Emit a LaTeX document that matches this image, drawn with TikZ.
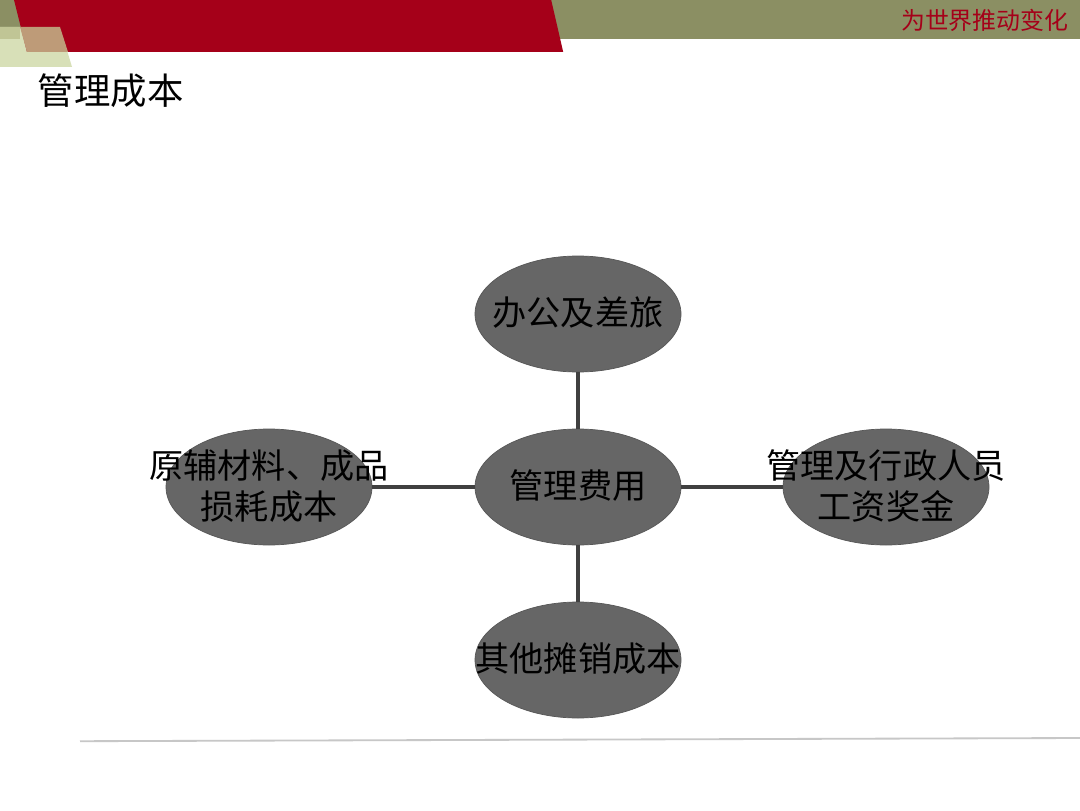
\documentclass[tikz,border=0pt]{standalone}
\usepackage{fontspec}
\setmainfont{Noto Sans CJK SC}
\usetikzlibrary{shapes.geometric}
\definecolor{bandolive}{HTML}{8B8F63}
\definecolor{bandred}{HTML}{A50019}
\definecolor{bandmid}{HTML}{C0C595}
\definecolor{bandlight}{HTML}{D8E0B8}
\definecolor{bandtan}{HTML}{BE9B78}
\definecolor{costgray}{HTML}{666666}
\definecolor{linkgray}{HTML}{404040}
\newcommand{\costname}[1]{\makebox[0pt]{\raisebox{-8.7pt}[0pt][0pt]{\begin{tabular}{@{}c@{}}#1\end{tabular}}}}
\tikzset{
  costnode/.style={ellipse,draw=costgray!85!black,fill=costgray,line width=0.5pt,inner sep=0pt,
    minimum width=5.15cm,minimum height=2.9cm,text=black,font=\fontsize{24.3}{29}\selectfont},
  costlink/.style={draw=linkgray,line width=2.6pt}
}
\begin{document}
\begin{tikzpicture}

\useasboundingbox (0,0) rectangle (27,20.25);
\fill[white] (0,0) rectangle (27,20.25);

% top band
\fill[bandolive] (0,19.275) rectangle (27,20.25);
\fill[bandlight] (0,18.575) -- (1.8,18.575) -- (1.5,19.575) -- (0,19.575) -- cycle;
\fill[bandmid] (0,19.275) rectangle (0.5,19.575);
\fill[bandred] (0.35,20.25) -- (13.78,20.25) -- (14.08,18.95) -- (0.675,18.95) -- cycle;
\fill[bandtan] (0.5,19.575) -- (1.5,19.575) -- (1.7,18.95) -- (0.675,18.95) -- cycle;

\node[text=bandred,font=\fontsize{17}{20}\selectfont] (slogan) at (24.62,19.75) {为世界推动变化};
\node[font=\fontsize{25.9}{30}\selectfont] (title) at (2.77,17.98) {管理成本};

\node[costnode] (hub) at (14.45,8.075) {\costname{管理费用}};
\node[costnode] (office) at (14.45,12.4) {\costname{办公及差旅}};
\node[costnode] (other) at (14.45,3.75) {\costname{其他摊销成本}};
\node[costnode] (material) at (6.725,8.075) {\costname{原辅材料、成品\\损耗成本}};
\node[costnode] (staff) at (22.15,8.075) {\costname{管理及行政人员\\工资奖金}};

\draw[costlink] (hub) -- (office);
\draw[costlink] (hub) -- (other);
\draw[costlink] (hub) -- (material);
\draw[costlink] (hub) -- (staff);

% footer rule
\coordinate (ruleleft) at (2,1.72);
\coordinate (ruleright) at (27,1.8);
\draw[black!22,line width=1.3pt] (ruleleft) -- (ruleright);
\end{tikzpicture}
\end{document}
